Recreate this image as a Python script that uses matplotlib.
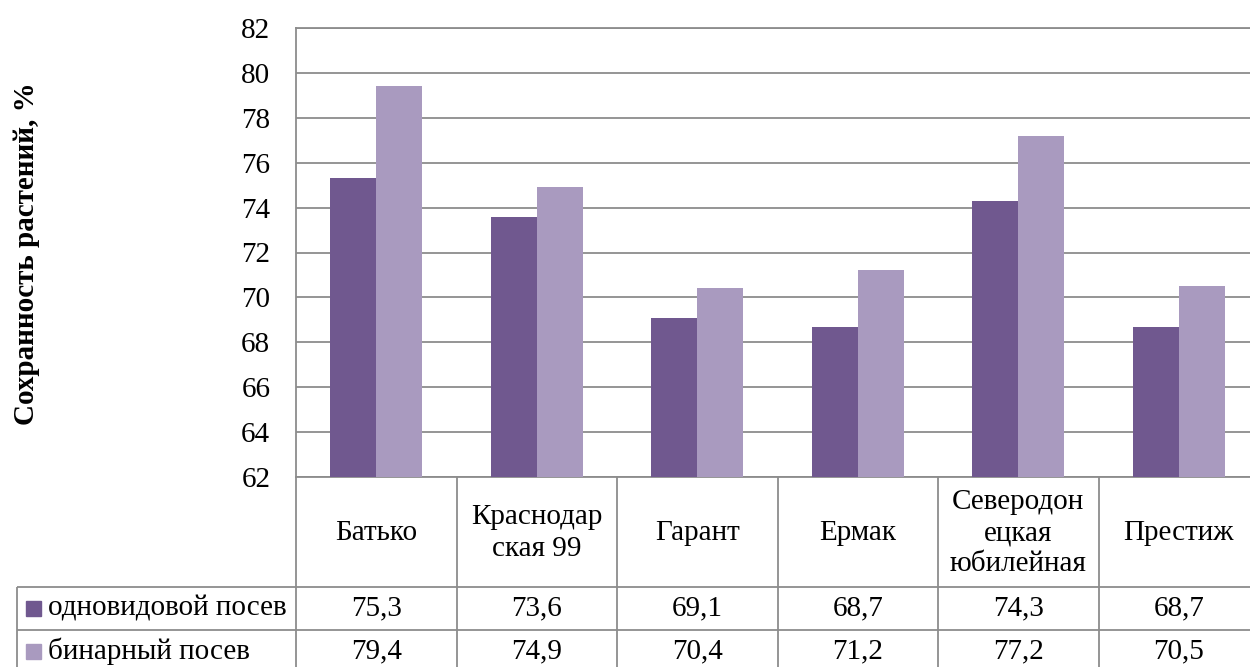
import matplotlib
matplotlib.use("Agg")
import matplotlib.pyplot as plt
from matplotlib.patches import Rectangle
import numpy as np

# ---- data ----
varieties = ["Батько", "Краснодар\nская 99", "Гарант", "Ермак",
             "Северодон\nецкая\nюбилейная", "Престиж"]
series_names = ["одновидовой посев", "бинарный посев"]
single_sowing = [75.3, 73.6, 69.1, 68.7, 74.3, 68.7]
binary_sowing = [79.4, 74.9, 70.4, 71.2, 77.2, 70.5]
y_ticks = list(range(62, 83, 2))
y_label = "Сохранность растений, %"

# ---- style ----
plt.rcParams['font.family'] = ['Liberation Serif', 'DejaVu Serif']
colors = ["#70588F", "#A99ABF"]
grid_col = "#8C8C8C"
fs = 21

W, H = 1250, 667
fig = plt.figure(figsize=(W / 100, H / 100), dpi=100)

# plot area geometry (pixels)
px_left, px_top, px_bottom = 296, 28, 477
col_w = 160.5
n = len(varieties)
px_right = px_left + n * col_w

ax = fig.add_axes([px_left / W, 1 - px_bottom / H,
                   (px_right - px_left) / W, (px_bottom - px_top) / H])

x = np.arange(n)
bw = 0.287
ax.bar(x - bw / 2, single_sowing, bw, color=colors[0], zorder=3)
ax.bar(x + bw / 2, binary_sowing, bw, color=colors[1], zorder=3)

ax.set_xlim(-0.5, n - 0.5)
ax.set_ylim(y_ticks[0], y_ticks[-1])
ax.set_yticks(y_ticks)
ax.set_yticklabels([str(t) for t in y_ticks], fontsize=fs)
ax.set_xticks([])
ax.tick_params(axis='y', length=0, pad=18.5)
ax.yaxis.grid(True, color=grid_col, lw=1.3)
ax.set_axisbelow(True)
ax.spines["right"].set_visible(False)
for side in ("left", "bottom", "top"):
    ax.spines[side].set_color(grid_col)
    ax.spines[side].set_linewidth(1.3)

fig.text(27 / W, 1 - 254 / H, y_label, rotation=90, ha='center', va='center',
         fontsize=fs, fontweight='bold')

# ---- data table under the plot ----
tab = fig.add_axes([0, 0, 1, 1], zorder=5)
tab.set_xlim(0, W)
tab.set_ylim(H, 0)
tab.axis('off')

row_top = [px_bottom, 587, 630]
row_bot = [587, 630, 673]
legend_left = 17
lk = dict(color=grid_col, lw=1.3, clip_on=False, solid_capstyle='butt')

# horizontal rules
for yy in (row_top[1], row_top[2], row_bot[2]):
    tab.plot([legend_left, W + 20], [yy] * 2, **lk)
# vertical rules
tab.plot([legend_left] * 2, [row_top[1], row_bot[2]], **lk)
tab.plot([px_left] * 2, [px_bottom, row_bot[2]], **lk)
for i in range(1, n + 1):
    xx = px_left + i * col_w
    tab.plot([xx] * 2, [px_bottom, row_bot[2]], **lk)

# header cells
for i, name in enumerate(varieties):
    cx = px_left + (i + 0.5) * col_w
    tab.text(cx, 533, name, ha='center', va='center',
             fontsize=fs, linespacing=1.25)

# value rows
for r, (vals, label) in enumerate(zip([single_sowing, binary_sowing], series_names)):
    cy = (row_top[r + 1] + row_bot[r + 1]) / 2
    tab.add_patch(Rectangle((26, cy - 7.5), 14.5, 15, color=colors[r], clip_on=False))
    tab.text(48, cy, label, ha='left', va='center', fontsize=fs)
    for i, v in enumerate(vals):
        cx = px_left + (i + 0.5) * col_w
        tab.text(cx, cy, f"{v:.1f}".replace('.', ','), ha='center', va='center',
                 fontsize=fs)

fig.savefig("out.png", dpi=100)
